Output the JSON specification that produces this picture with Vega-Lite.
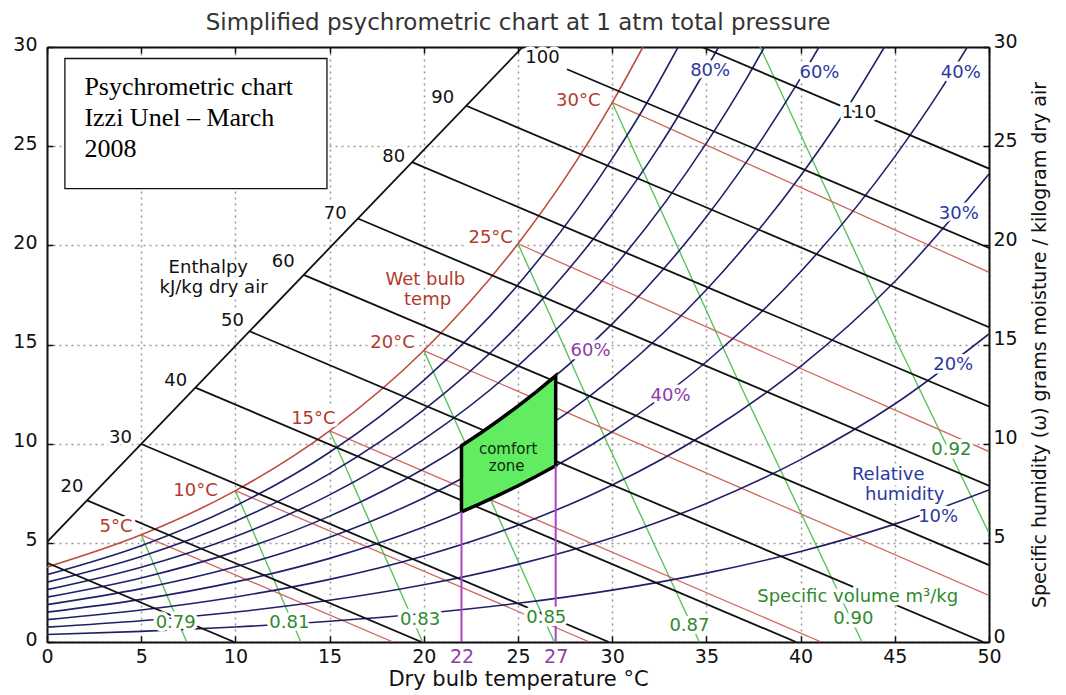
{
"$schema": "https://vega.github.io/schema/vega-lite/v6.json",
"width": 942, "height": 595,
"autosize": {"type": "none"},
"padding": {"left": 47, "top": 47, "right": 77, "bottom": 53},
"background": "white",
"config": {"view": {"stroke": null}, "font": "DejaVu Sans"},
"title": {"text": "Simplified psychrometric chart at 1 atm total pressure", "fontSize": 23, "fontWeight": "normal", "color": "#333", "offset": 8, "dy": 11, "font": "DejaVu Sans"},
"datasets": {
"lines": [
{"s":"hd","k":"enth","T":0,"w":5.041},{"s":"hd","k":"enth","T":25.25,"w":30},
{"s":"h10","k":"enth","T":0,"w":3.998},{"s":"h10","k":"enth","T":9.94,"w":0},
{"s":"h20","k":"enth","T":2.125,"w":7.142},{"s":"h20","k":"enth","T":19.881,"w":0},
{"s":"h30","k":"enth","T":5.0,"w":9.984},{"s":"h30","k":"enth","T":29.821,"w":0},
{"s":"h40","k":"enth","T":7.875,"w":12.826},{"s":"h40","k":"enth","T":39.761,"w":0},
{"s":"h50","k":"enth","T":10.75,"w":15.668},{"s":"h50","k":"enth","T":49.702,"w":0},
{"s":"h60","k":"enth","T":13.625,"w":18.51},{"s":"h60","k":"enth","T":50,"w":3.878},
{"s":"h70","k":"enth","T":16.5,"w":21.352},{"s":"h70","k":"enth","T":50,"w":7.877},
{"s":"h80","k":"enth","T":19.375,"w":24.194},{"s":"h80","k":"enth","T":50,"w":11.875},
{"s":"h90","k":"enth","T":22.25,"w":27.036},{"s":"h90","k":"enth","T":50,"w":15.874},
{"s":"h100","k":"enth","T":27.6,"w":28.88},{"s":"h100","k":"enth","T":50,"w":19.872},
{"s":"h110","k":"enth","T":34.76,"w":30},{"s":"h110","k":"enth","T":50,"w":23.871},
{"s":"wb5","k":"wb","T":5,"w":5.403},{"s":"wb5","k":"wb","T":18.37,"w":0},
{"s":"wb10","k":"wb","T":10,"w":7.631},{"s":"wb10","k":"wb","T":28.8,"w":0},
{"s":"wb15","k":"wb","T":15,"w":10.649},{"s":"wb15","k":"wb","T":41.1,"w":0},
{"s":"wb20","k":"wb","T":20,"w":14.696},{"s":"wb20","k":"wb","T":50,"w":2.347},
{"s":"wb25","k":"wb","T":25,"w":20.081},{"s":"wb25","k":"wb","T":50,"w":9.603},
{"s":"wb30","k":"wb","T":30,"w":27.2},{"s":"wb30","k":"wb","T":50,"w":18.64},
{"s":"sat","k":"sat","T":0,"w":3.775},{"s":"sat","k":"sat","T":5,"w":5.403},{"s":"sat","k":"sat","T":10,"w":7.631},{"s":"sat","k":"sat","T":15,"w":10.649},{"s":"sat","k":"sat","T":20,"w":14.696},{"s":"sat","k":"sat","T":25,"w":20.081},{"s":"sat","k":"sat","T":27.5,"w":23.39},{"s":"sat","k":"sat","T":30,"w":27.2},{"s":"sat","k":"sat","T":31.63,"w":30},
{"s":"rh10","k":"rh","T":0,"w":0.376},{"s":"rh10","k":"rh","T":5,"w":0.536},{"s":"rh10","k":"rh","T":10,"w":0.755},{"s":"rh10","k":"rh","T":15,"w":1.049},{"s":"rh10","k":"rh","T":20,"w":1.439},{"s":"rh10","k":"rh","T":25,"w":1.951},{"s":"rh10","k":"rh","T":30,"w":2.617},{"s":"rh10","k":"rh","T":35,"w":3.473},{"s":"rh10","k":"rh","T":40,"w":4.564},{"s":"rh10","k":"rh","T":45,"w":5.943},{"s":"rh10","k":"rh","T":50,"w":7.671},
{"s":"rh20","k":"rh","T":0,"w":0.751},{"s":"rh20","k":"rh","T":5,"w":1.073},{"s":"rh20","k":"rh","T":10,"w":1.512},{"s":"rh20","k":"rh","T":15,"w":2.101},{"s":"rh20","k":"rh","T":20,"w":2.885},{"s":"rh20","k":"rh","T":25,"w":3.915},{"s":"rh20","k":"rh","T":30,"w":5.256},{"s":"rh20","k":"rh","T":35,"w":6.986},{"s":"rh20","k":"rh","T":40,"w":9.196},{"s":"rh20","k":"rh","T":45,"w":12.001},{"s":"rh20","k":"rh","T":50,"w":15.534},
{"s":"rh30","k":"rh","T":0,"w":1.128},{"s":"rh30","k":"rh","T":5,"w":1.611},{"s":"rh30","k":"rh","T":10,"w":2.27},{"s":"rh30","k":"rh","T":15,"w":3.157},{"s":"rh30","k":"rh","T":20,"w":4.337},{"s":"rh30","k":"rh","T":25,"w":5.891},{"s":"rh30","k":"rh","T":30,"w":7.918},{"s":"rh30","k":"rh","T":35,"w":10.538},{"s":"rh30","k":"rh","T":40,"w":13.897},{"s":"rh30","k":"rh","T":45,"w":18.177},{"s":"rh30","k":"rh","T":50,"w":23.595},
{"s":"rh40","k":"rh","T":0,"w":1.505},{"s":"rh40","k":"rh","T":5,"w":2.15},{"s":"rh40","k":"rh","T":10,"w":3.03},{"s":"rh40","k":"rh","T":15,"w":4.216},{"s":"rh40","k":"rh","T":20,"w":5.796},{"s":"rh40","k":"rh","T":25,"w":7.88},{"s":"rh40","k":"rh","T":30,"w":10.602},{"s":"rh40","k":"rh","T":35,"w":14.13},{"s":"rh40","k":"rh","T":40,"w":18.669},{"s":"rh40","k":"rh","T":45,"w":24.474},{"s":"rh40","k":"rh","T":47.5,"w":27.94},{"s":"rh40","k":"rh","T":48.85,"w":30},
{"s":"rh50","k":"rh","T":0,"w":1.882},{"s":"rh50","k":"rh","T":5,"w":2.69},{"s":"rh50","k":"rh","T":10,"w":3.792},{"s":"rh50","k":"rh","T":15,"w":5.28},{"s":"rh50","k":"rh","T":20,"w":7.263},{"s":"rh50","k":"rh","T":25,"w":9.881},{"s":"rh50","k":"rh","T":30,"w":13.31},{"s":"rh50","k":"rh","T":35,"w":17.763},{"s":"rh50","k":"rh","T":40,"w":23.512},{"s":"rh50","k":"rh","T":42,"w":26.23},{"s":"rh50","k":"rh","T":44.45,"w":30},
{"s":"rh60","k":"rh","T":0,"w":2.26},{"s":"rh60","k":"rh","T":5,"w":3.231},{"s":"rh60","k":"rh","T":10,"w":4.557},{"s":"rh60","k":"rh","T":15,"w":6.346},{"s":"rh60","k":"rh","T":20,"w":8.735},{"s":"rh60","k":"rh","T":25,"w":11.895},{"s":"rh60","k":"rh","T":30,"w":16.04},{"s":"rh60","k":"rh","T":35,"w":21.439},{"s":"rh60","k":"rh","T":38,"w":25.43},{"s":"rh60","k":"rh","T":40,"w":28.43},{"s":"rh60","k":"rh","T":40.98,"w":30},
{"s":"rh70","k":"rh","T":0,"w":2.638},{"s":"rh70","k":"rh","T":5,"w":3.772},{"s":"rh70","k":"rh","T":10,"w":5.322},{"s":"rh70","k":"rh","T":15,"w":7.417},{"s":"rh70","k":"rh","T":20,"w":10.215},{"s":"rh70","k":"rh","T":25,"w":13.922},{"s":"rh70","k":"rh","T":30,"w":18.794},{"s":"rh70","k":"rh","T":35,"w":25.156},{"s":"rh70","k":"rh","T":37,"w":28.2},{"s":"rh70","k":"rh","T":38.08,"w":30},
{"s":"rh80","k":"rh","T":0,"w":3.017},{"s":"rh80","k":"rh","T":5,"w":4.315},{"s":"rh80","k":"rh","T":10,"w":6.09},{"s":"rh80","k":"rh","T":15,"w":8.49},{"s":"rh80","k":"rh","T":20,"w":11.702},{"s":"rh80","k":"rh","T":25,"w":15.962},{"s":"rh80","k":"rh","T":30,"w":21.572},{"s":"rh80","k":"rh","T":32.5,"w":24.99},{"s":"rh80","k":"rh","T":35,"w":28.917},{"s":"rh80","k":"rh","T":35.65,"w":30},
{"s":"rh90","k":"rh","T":0,"w":3.396},{"s":"rh90","k":"rh","T":5,"w":4.859},{"s":"rh90","k":"rh","T":10,"w":6.86},{"s":"rh90","k":"rh","T":15,"w":9.568},{"s":"rh90","k":"rh","T":20,"w":13.196},{"s":"rh90","k":"rh","T":25,"w":18.015},{"s":"rh90","k":"rh","T":30,"w":24.375},{"s":"rh90","k":"rh","T":32,"w":27.44},{"s":"rh90","k":"rh","T":33.5,"w":30},
{"s":"sv79","k":"sv","T":5,"w":5.403},{"s":"sv79","k":"sv","T":7.416,"w":0},
{"s":"sv81","k":"sv","T":10,"w":7.631},{"s":"sv81","k":"sv","T":13.474,"w":0},
{"s":"sv83","k":"sv","T":15,"w":10.649},{"s":"sv83","k":"sv","T":19.934,"w":0},
{"s":"sv85","k":"sv","T":20,"w":14.696},{"s":"sv85","k":"sv","T":26.927,"w":0},
{"s":"sv87","k":"sv","T":25,"w":20.081},{"s":"sv87","k":"sv","T":29.756,"w":10},{"s":"sv87","k":"sv","T":34.626,"w":0},
{"s":"sv90","k":"sv","T":30,"w":27.2},{"s":"sv90","k":"sv","T":36.48,"w":13.6},{"s":"sv90","k":"sv","T":43.257,"w":0},
{"s":"sv92","k":"sv","T":37.85,"w":30},{"s":"sv92","k":"sv","T":45.17,"w":15},{"s":"sv92","k":"sv","T":50,"w":5.485}
],
"cz": [
{"T":22,"lo":6.563,"hi":9.896},{"T":23,"lo":6.979,"hi":10.526},{"T":24,"lo":7.417,"hi":11.192},{"T":25,"lo":7.88,"hi":11.895},{"T":26,"lo":8.369,"hi":12.638},{"T":27,"lo":8.884,"hi":13.422}
],
"czo": [
{"o":1,"T":22,"w":6.563},{"o":2,"T":23,"w":6.979},{"o":3,"T":24,"w":7.417},{"o":4,"T":25,"w":7.88},{"o":5,"T":26,"w":8.369},{"o":6,"T":27,"w":8.884},{"o":7,"T":27,"w":13.422},{"o":8,"T":26,"w":12.638},{"o":9,"T":25,"w":11.895},{"o":10,"T":24,"w":11.192},{"o":11,"T":23,"w":10.526},{"o":12,"T":22,"w":9.896},{"o":13,"T":22,"w":6.563}
],
"pv": [{"T":22,"lo":0,"hi":6.563},{"T":27,"lo":0,"hi":8.884}],
"box": [{"x1":0.95,"x2":14.86,"y1":22.86,"y2":29.42}],
"boxtext": [
{"t":"Psychrometric chart","T":1.985,"w":27.6},
{"t":"Izzi Unel – March","T":1.985,"w":26.04},
{"t":"2008","T":1.985,"w":24.47}
],
"cztext": [
{"t":"comfort","T":24.48,"w":9.72},
{"t":"zone","T":24.4,"w":8.86}
],
"labels": [
{"t":"20","T":1.33,"w":7.8,"g":"k"},
{"t":"30","T":3.9,"w":10.3,"g":"k"},
{"t":"40","T":6.83,"w":13.16,"g":"k"},
{"t":"50","T":9.84,"w":16.2,"g":"k"},
{"t":"60","T":12.54,"w":19.16,"g":"k"},
{"t":"70","T":15.3,"w":21.6,"g":"k"},
{"t":"80","T":18.4,"w":24.47,"g":"k"},
{"t":"90","T":21.0,"w":27.43,"g":"k"},
{"t":"100","T":26.3,"w":29.45,"g":"k"},
{"t":"110","T":43.1,"w":26.68,"g":"k"},
{"t":"Enthalpy","T":8.56,"w":18.85,"g":"k"},
{"t":"kJ/kg dry air","T":8.84,"w":17.85,"g":"k"},
{"t":"5°C","T":3.66,"w":5.82,"g":"r"},
{"t":"10°C","T":7.88,"w":7.6,"g":"r"},
{"t":"15°C","T":14.14,"w":11.26,"g":"r"},
{"t":"20°C","T":18.34,"w":15.08,"g":"r"},
{"t":"25°C","T":23.55,"w":20.39,"g":"r"},
{"t":"30°C","T":28.2,"w":27.28,"g":"r"},
{"t":"Wet bulb","T":20.08,"w":18.25,"g":"r"},
{"t":"temp","T":20.2,"w":17.25,"g":"r"},
{"t":"80%","T":35.2,"w":28.77,"g":"b"},
{"t":"60%","T":41.0,"w":28.7,"g":"b"},
{"t":"40%","T":48.5,"w":28.7,"g":"b"},
{"t":"30%","T":48.4,"w":21.58,"g":"b"},
{"t":"20%","T":48.1,"w":13.97,"g":"b"},
{"t":"10%","T":47.3,"w":6.3,"g":"b"},
{"t":"Relative","T":44.65,"w":8.4,"g":"b"},
{"t":"humidity","T":45.53,"w":7.4,"g":"b"},
{"t":"60%","T":28.85,"w":14.67,"g":"p"},
{"t":"40%","T":33.1,"w":12.4,"g":"p"},
{"t":"0.79","T":6.83,"w":0.96,"g":"g"},
{"t":"0.81","T":12.86,"w":0.96,"g":"g"},
{"t":"0.83","T":19.8,"w":1.1,"g":"g"},
{"t":"0.85","T":26.5,"w":1.2,"g":"g"},
{"t":"0.87","T":34.1,"w":0.8,"g":"g"},
{"t":"0.90","T":42.8,"w":1.15,"g":"g"},
{"t":"0.92","T":48.0,"w":9.68,"g":"g"},
{"t":"Specific volume m³/kg","T":43.03,"w":2.29,"g":"g"}
]
},
"layer": [
{"data":{"name":"box"},
 "mark":{"type":"rect","fill":"white","stroke":"#111","strokeWidth":1.3},
 "encoding":{"x":{"field":"x1","type":"quantitative","axis":null},"x2":{"field":"x2"},"y":{"field":"y1","type":"quantitative","axis":null},"y2":{"field":"y2"}}},
{"data":{"name":"lines"},"transform":[{"filter":"datum.k=='sv'"}],
 "mark":{"type":"line","color":"#5cc35c","strokeWidth":1.4,"clip":true},
 "encoding":{"x":{"field":"T","type":"quantitative","axis":null},"y":{"field":"w","type":"quantitative","axis":null},"detail":{"field":"s"}}},
{"data":{"name":"lines"},"transform":[{"filter":"datum.k=='wb'"}],
 "mark":{"type":"line","color":"#d06a60","strokeWidth":1.3,"clip":true},
 "encoding":{
  "x":{"field":"T","type":"quantitative","scale":{"domain":[0,50],"nice":false,"zero":false},
   "axis":{"orient":"top","values":[0,5,10,15,20,25,30,35,40,45,50],"labels":false,"title":null,"grid":false,"domainColor":"#111","domainWidth":2,"tickColor":"#111","tickWidth":1.5,"tickSize":-6}},
  "y":{"field":"w","type":"quantitative","scale":{"domain":[0,30],"nice":false,"zero":false},
   "axis":{"orient":"right","values":[0,5,10,15,20,25,30],"title":"Specific humidity (\u03c9) grams moisture / kilogram dry air","titleAngle":270,"titleFontSize":19,"titleFontWeight":"normal","titleColor":"#111","titlePadding":32,"grid":false,"labelFontSize":19,"labelColor":"#111","labelPadding":10,"labelOffset":-6,"domainColor":"#111","domainWidth":2,"tickColor":"#111","tickWidth":1.5,"tickSize":-6}},
  "detail":{"field":"s"}}},
{"data":{"name":"lines"},"transform":[{"filter":"datum.k=='rh'"}],
 "mark":{"type":"line","color":"#20206a","strokeWidth":1.6,"interpolate":"monotone","clip":true},
 "encoding":{"x":{"field":"T","type":"quantitative","axis":null},"y":{"field":"w","type":"quantitative","axis":null},"detail":{"field":"s"}}},
{"data":{"name":"lines"},"transform":[{"filter":"datum.k=='sat'"}],
 "mark":{"type":"line","color":"#c04a3e","strokeWidth":1.6,"interpolate":"monotone","clip":true},
 "encoding":{"x":{"field":"T","type":"quantitative","axis":null},"y":{"field":"w","type":"quantitative","axis":null},"detail":{"field":"s"}}},
{"data":{"name":"lines"},"transform":[{"filter":"datum.k=='enth'"}],
 "mark":{"type":"line","color":"#111","strokeWidth":1.8,"clip":true},
 "encoding":{
  "x":{"field":"T","type":"quantitative","scale":{"domain":[0,50],"nice":false,"zero":false},
   "axis":{"orient":"bottom","values":[0,5,10,15,20,22,25,27,30,35,40,45,50],"title":"Dry bulb temperature °C","titleFontSize":21,"titleFontWeight":"normal","titleColor":"#111","titlePadding":2,"labelFontSize":19,"labelPadding":11,"labelFlush":false,"labelOverlap":false,
    "labelColor":{"condition":{"test":"datum.value==22||datum.value==27","value":"#8e3ca8"},"value":"#111"},
    "grid":true,"gridDash":[2,4],"gridColor":"#999","gridWidth":1.5,
    "gridOpacity":{"condition":{"test":"datum.value==22||datum.value==27","value":0},"value":1},
    "tickOpacity":{"condition":{"test":"datum.value==22||datum.value==27","value":0},"value":1},
    "domainColor":"#111","domainWidth":2,"tickColor":"#111","tickWidth":1.5,"tickSize":-6}},
  "y":{"field":"w","type":"quantitative","scale":{"domain":[0,30],"nice":false,"zero":false},
   "axis":{"orient":"left","values":[0,5,10,15,20,25,30],"title":null,"labelFontSize":19,"labelColor":"#111","labelPadding":16,"labelOffset":-3,
    "grid":true,"gridDash":[2,4],"gridColor":"#999","gridWidth":1.5,
    "domainColor":"#111","domainWidth":2,"tickColor":"#111","tickWidth":1.5,"tickSize":-6}},
  "detail":{"field":"s"}}},
{"data":{"name":"cz"},
 "mark":{"type":"area","color":"#62ec62","opacity":1},
 "encoding":{"x":{"field":"T","type":"quantitative","axis":null},"y":{"field":"lo","type":"quantitative","axis":null},"y2":{"field":"hi"}}},
{"data":{"name":"czo"},
 "mark":{"type":"line","color":"#000","strokeWidth":3.5,"strokeJoin":"miter"},
 "encoding":{"x":{"field":"T","type":"quantitative","axis":null},"y":{"field":"w","type":"quantitative","axis":null},"order":{"field":"o"}}},
{"data":{"name":"pv"},
 "mark":{"type":"rule","color":"#b040c8","strokeWidth":2},
 "encoding":{"x":{"field":"T","type":"quantitative","axis":null},"y":{"field":"lo","type":"quantitative","axis":null},"y2":{"field":"hi"}}},
{"data":{"name":"labels"},
 "mark":{"type":"text","fontSize":18,"fill":"white","stroke":"white","strokeWidth":7,"strokeJoin":"round","align":"center","baseline":"middle"},
 "encoding":{"x":{"field":"T","type":"quantitative","axis":null},"y":{"field":"w","type":"quantitative","axis":null},"text":{"field":"t"}}},
{"data":{"name":"labels"},
 "mark":{"type":"text","fontSize":18,"align":"center","baseline":"middle"},
 "encoding":{"x":{"field":"T","type":"quantitative","axis":null},"y":{"field":"w","type":"quantitative","axis":null},"text":{"field":"t"},
  "color":{"field":"g","type":"nominal","legend":null,"scale":{"domain":["k","r","b","p","g"],"range":["#111111","#b23a2e","#2b3a9e","#8e3ca8","#2f8a2f"]}}}},
{"data":{"name":"cztext"},
 "mark":{"type":"text","fontSize":15,"align":"center","baseline":"middle","color":"#0b2f0b"},
 "encoding":{"x":{"field":"T","type":"quantitative","axis":null},"y":{"field":"w","type":"quantitative","axis":null},"text":{"field":"t"}}},
{"data":{"name":"boxtext"},
 "mark":{"type":"text","font":"Liberation Serif","fontSize":26,"align":"left","baseline":"alphabetic","color":"#000"},
 "encoding":{"x":{"field":"T","type":"quantitative","axis":null},"y":{"field":"w","type":"quantitative","axis":null},"text":{"field":"t"}}}
],
"resolve": {"axis": {"x": "independent", "y": "independent"}}
}
